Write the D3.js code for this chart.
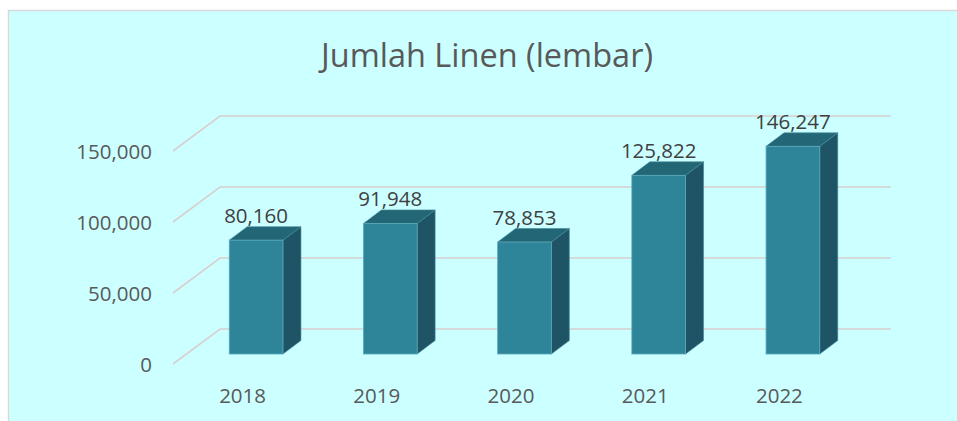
<!DOCTYPE html>
<html>
<head>
<meta charset="utf-8">
<script src="https://cdn.jsdelivr.net/npm/d3@7"></script>
<style>
  html, body { margin: 0; padding: 0; background: #ffffff; }
  svg { display: block; }
  text { font-family: "Open Sans", "Noto Sans", sans-serif; }
</style>
</head>
<body>
<svg id="chart" width="957" height="421"></svg>
<script>
// Linen counts per year
const years = ["2018", "2019", "2020", "2021", "2022"];
const linenCounts = [80160, 91948, 78853, 125822, 146247];
const yTicks = [0, 50000, 100000, 150000];
const chartTitle = "Jumlah Linen (lembar)";

const W = 957, H = 421;
const svg = d3.select("#chart");

// Chart area background
svg.append("rect")
  .attr("x", 8.5).attr("y", 10.5)
  .attr("width", W + 10).attr("height", H + 10)
  .attr("fill", "#ccffff")
  .attr("stroke", "#d9d9d9").attr("stroke-width", 1.5);

// Title
svg.append("text")
  .attr("x", 487).attr("y", 67)
  .attr("text-anchor", "middle")
  .attr("font-size", 32.5)
  .attr("fill", "#595959")
  .text(chartTitle);

// 3D geometry: front floor edge, depth of the floor, depth of each bar
const floorFront = { x0: 173, x1: 844, y: 364 };
const floorDepth = { dx: 47, dy: -35 };
const barPlane = { x0: 189, x1: 860, y: 354 };
const barDepth = { dx: 18, dy: -13.5 };

// Value scale (height above a floor plane)
const h = d3.scaleLinear().domain([0, 150000]).range([0, 213]);

// Category scales for the bar front plane and for the floor labels
const xBars = d3.scaleBand().domain(years).range([barPlane.x0, barPlane.x1]).paddingInner(0.6).paddingOuter(0.3);
const xLabels = d3.scaleBand().domain(years).range([floorFront.x0 + 2.5, floorFront.x1 + 2.5]);

// Gridlines: diagonal on the side wall, then horizontal along the back wall
const grid = svg.append("g").attr("stroke", "#d8d0d0").attr("stroke-width", 1.6).attr("fill", "none");
yTicks.forEach(v => {
  const yf = floorFront.y - h(v);
  const xb = floorFront.x0 + floorDepth.dx, yb = yf + floorDepth.dy;
  grid.append("path")
    .attr("d", `M${floorFront.x0},${yf}L${xb},${yb}L${floorFront.x1 + floorDepth.dx},${yb}`);
});

// Value axis labels
const fmt = d3.format(",");
svg.append("g").selectAll("text").data(yTicks).join("text")
  .attr("x", 152)
  .attr("y", d => floorFront.y - h(d) + 7.5)
  .attr("text-anchor", "end")
  .attr("font-size", 20.5)
  .attr("fill", "#595959")
  .text(d => fmt(d));

// Bars
const bars = svg.append("g");
years.forEach((yr, i) => {
  const v = linenCounts[i];
  const x0 = xBars(yr), x1 = x0 + xBars.bandwidth();
  const yb = barPlane.y, yt = barPlane.y - h(v);
  const dx = barDepth.dx, dy = barDepth.dy;
  // side face
  bars.append("path")
    .attr("d", `M${x1},${yt}L${x1 + dx},${yt + dy}L${x1 + dx},${yb + dy}L${x1},${yb}Z`)
    .attr("fill", "#1e5465").attr("stroke", "#3f8a9c").attr("stroke-width", 0.6);
  // top face
  bars.append("path")
    .attr("d", `M${x0},${yt}L${x0 + dx},${yt + dy}L${x1 + dx},${yt + dy}L${x1},${yt}Z`)
    .attr("fill", "#236676").attr("stroke", "#3f8a9c").attr("stroke-width", 0.6);
  // front face
  bars.append("rect")
    .attr("x", x0).attr("y", yt)
    .attr("width", x1 - x0).attr("height", yb - yt)
    .attr("fill", "#2e8599").attr("stroke", "#5aa8ba").attr("stroke-width", 0.8);
  // value label
  bars.append("text")
    .attr("x", (x0 + x1) / 2)
    .attr("y", yt - 17)
    .attr("text-anchor", "middle")
    .attr("font-size", 20.5)
    .attr("fill", "#404040")
    .text(fmt(v));
});

// Category labels
svg.append("g").selectAll("text").data(years).join("text")
  .attr("x", d => xLabels(d) + xLabels.bandwidth() / 2)
  .attr("y", 403)
  .attr("text-anchor", "middle")
  .attr("font-size", 20.5)
  .attr("fill", "#595959")
  .text(d => d);
</script>
</body>
</html>
